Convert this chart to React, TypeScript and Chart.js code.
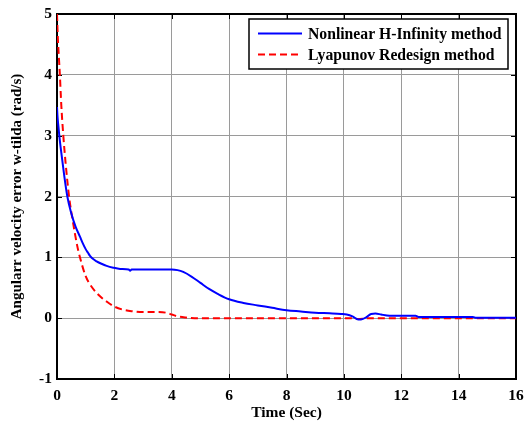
import React, { useEffect, useRef } from "react";
import { Chart, registerables } from "chart.js";

Chart.register(...registerables);

// ---- data ----
const seriesNames = ["Nonlinear H-Infinity method", "Lyapunov Redesign method"];

const tHinf = [0, 0.02, 0.05, 0.08, 0.15, 0.25, 0.36, 0.5, 0.65, 0.8, 0.9, 1.0, 1.08, 1.15, 1.25, 1.38, 1.55, 1.73, 1.96, 2.2, 2.5, 2.55, 2.6, 3.0, 3.5, 4.0, 4.2, 4.4, 4.7, 5.0, 5.3, 5.6, 6.0, 6.5, 7.0, 7.5, 8.0, 8.5, 9.0, 9.5, 9.9, 10.1, 10.3, 10.5, 10.6, 10.8, 10.95, 11.1, 11.3, 11.5, 12.0, 12.5, 12.6, 14.5, 14.6, 16];
const yHinf = [3.47, 3.3, 3.15, 3.0, 2.72, 2.35, 2.0, 1.72, 1.5, 1.34, 1.23, 1.135, 1.075, 1.025, 0.975, 0.935, 0.895, 0.86, 0.83, 0.81, 0.8, 0.78, 0.8, 0.8, 0.8, 0.8, 0.79, 0.76, 0.68, 0.58, 0.48, 0.4, 0.31, 0.25, 0.21, 0.17, 0.13, 0.11, 0.09, 0.08, 0.07, 0.06, 0.03, -0.02, -0.02, 0.02, 0.07, 0.075, 0.06, 0.045, 0.04, 0.04, 0.02, 0.02, 0.005, 0.005];

const tLyap = [0, 0.03, 0.07, 0.1, 0.15, 0.22, 0.3, 0.42, 0.55, 0.7, 0.8, 1.0, 1.2, 1.5, 1.8, 2.0, 2.3, 2.6, 3.0, 3.5, 3.8, 4.0, 4.2, 4.5, 4.8, 10.2, 10.5, 10.8, 16];
const yLyap = [5.0, 4.6, 4.25, 4.0, 3.5, 3.0, 2.55, 2.0, 1.6, 1.2, 1.0, 0.69, 0.52, 0.36, 0.25, 0.19, 0.14, 0.115, 0.1, 0.1, 0.09, 0.06, 0.03, 0.01, 0.0, 0.0, -0.015, 0.0, 0.0];

const xTicks = [0, 2, 4, 6, 8, 10, 12, 14, 16];
const yTicks = [-1, 0, 1, 2, 3, 4, 5];
const xTitle = "Time (Sec)";
const yTitle = "Angularr velocity error w-tilda (rad/s)";

const FAMILY = "'Liberation Serif', 'Times New Roman', serif";

const framePlugin = {
  id: "matlabFrame",
  beforeDatasetsDraw(chart: any) {
    const { ctx, chartArea: a, scales } = chart;
    ctx.save();
    ctx.strokeStyle = "#000";
    ctx.lineWidth = 1;
    const tl = 5;
    ctx.beginPath();
    xTicks.forEach((v) => {
      const px = Math.round(scales.x.getPixelForValue(v)) + 0.5;
      ctx.moveTo(px, a.bottom);
      ctx.lineTo(px, a.bottom - tl);
      ctx.moveTo(px, a.top);
      ctx.lineTo(px, a.top + tl);
    });
    yTicks.forEach((v) => {
      const py = Math.round(scales.y.getPixelForValue(v)) + 0.5;
      ctx.moveTo(a.left, py);
      ctx.lineTo(a.left + tl, py);
      ctx.moveTo(a.right, py);
      ctx.lineTo(a.right - tl, py);
    });
    ctx.stroke();
    ctx.lineWidth = 2;
    ctx.strokeRect(a.left, a.top, a.right - a.left, a.bottom - a.top);
    ctx.restore();
  },
  afterDraw(chart: any) {
    const { ctx, chartArea: a } = chart;
    const w = 259, h = 50;
    const x0 = a.right - 267, y0 = a.top + 5;
    ctx.save();
    ctx.fillStyle = "#fff";
    ctx.fillRect(x0, y0, w, h);
    ctx.strokeStyle = "#000";
    ctx.lineWidth = 1.5;
    ctx.strokeRect(x0, y0, w, h);
    const rows = [y0 + 14.5, y0 + 35.5];
    chart.data.datasets.forEach((ds: any, i: number) => {
      const y = rows[i];
      ctx.beginPath();
      ctx.strokeStyle = ds.borderColor;
      ctx.lineWidth = 2;
      ctx.setLineDash(ds.borderDash || []);
      ctx.moveTo(x0 + 9, y);
      ctx.lineTo(x0 + 53, y);
      ctx.stroke();
      ctx.setLineDash([]);
      ctx.fillStyle = "#000";
      ctx.font = `bold 15.7px ${FAMILY}`;
      ctx.textBaseline = "middle";
      ctx.textAlign = "left";
      ctx.fillText(ds.label, x0 + 59, y + 1);
    });
    ctx.restore();
  },
};

export default function App() {
  const ref = useRef<HTMLCanvasElement>(null);

  useEffect(() => {
    if (!ref.current) return;
    const chart = new Chart(ref.current, {
      type: "line",
      data: {
        datasets: [
          {
            label: seriesNames[0],
            data: tHinf.map((t, i) => ({ x: t, y: yHinf[i] })),
            borderColor: "#0000ff",
            borderWidth: 2,
            pointRadius: 0,
            fill: false,
            cubicInterpolationMode: "monotone",
          },
          {
            label: seriesNames[1],
            data: tLyap.map((t, i) => ({ x: t, y: yLyap[i] })),
            borderColor: "#ff0000",
            borderWidth: 2,
            borderDash: [7, 4],
            pointRadius: 0,
            fill: false,
            cubicInterpolationMode: "monotone",
          },
        ],
      },
      options: {
        animation: false,
        responsive: false,
        layout: { padding: { top: 14, right: 12, left: 0, bottom: 0 } },
        plugins: {
          legend: { display: false },
          tooltip: { enabled: false },
        },
        scales: {
          x: {
            type: "linear",
            min: 0,
            max: 16,
            afterFit: (s: any) => {
              s.height = 42;
              s.paddingLeft = 0;
              s.paddingRight = 0;
            },
            afterBuildTicks: (s: any) => {
              s.ticks = xTicks.map((v) => ({ value: v }));
            },
            grid: { color: "#9a9a9a", lineWidth: 1, drawTicks: false },
            border: { display: false },
            ticks: {
              padding: 8,
              color: "#000",
              maxRotation: 0,
              font: { family: FAMILY, size: 15.5, weight: "bold" },
            },
            title: {
              display: true,
              text: xTitle,
              color: "#000",
              padding: { top: 0, bottom: 0 },
              font: { family: FAMILY, size: 15.5, weight: "bold", lineHeight: 1 },
            },
          },
          y: {
            type: "linear",
            min: -1,
            max: 5,
            afterFit: (s: any) => {
              s.width = 57;
              s.paddingTop = 0;
              s.paddingBottom = 0;
            },
            afterBuildTicks: (s: any) => {
              s.ticks = yTicks.map((v) => ({ value: v }));
            },
            grid: { color: "#9a9a9a", lineWidth: 1, drawTicks: false },
            border: { display: false },
            ticks: {
              padding: 5,
              color: "#000",
              font: { family: FAMILY, size: 15.5, weight: "bold" },
            },
            title: {
              display: true,
              text: yTitle,
              color: "#000",
              padding: { top: 10, bottom: 0 },
              font: { family: FAMILY, size: 15, weight: "bold", lineHeight: 1 },
            },
          },
        },
      },
      plugins: [framePlugin],
    } as any);
    return () => chart.destroy();
  }, []);

  return (
    <div style={{ position: "absolute", left: 0, top: 0, width: 528, height: 421, background: "#fff" }}>
      <canvas ref={ref} width={528} height={421} />
    </div>
  );
}
